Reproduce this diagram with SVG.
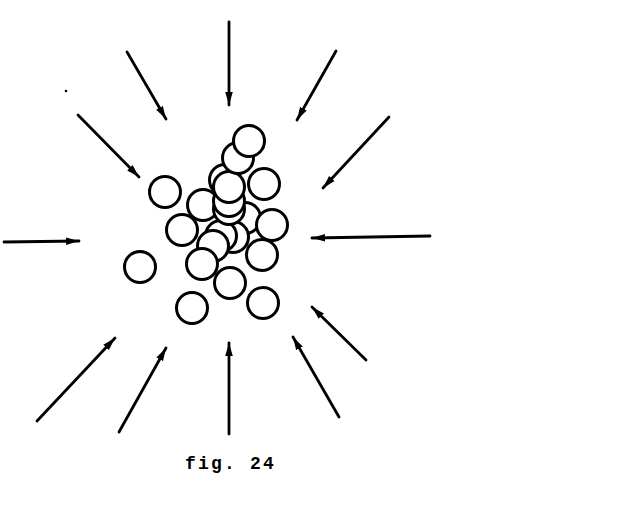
<svg xmlns="http://www.w3.org/2000/svg" width="618" height="523" viewBox="0 0 618 523">
<style>
.ar{stroke:#000;stroke-width:2.8;fill:none;stroke-linecap:round;marker-end:url(#h)}
.c circle{fill:#fff;stroke:#000;stroke-width:3}
.cap{font-family:"Liberation Mono",monospace;font-weight:bold;font-size:18px;letter-spacing:2.2px;fill:#000}
</style>
<defs>
<marker id="h" markerUnits="userSpaceOnUse" markerWidth="14" markerHeight="10" viewBox="0 0 14 10" refX="13" refY="5" orient="auto">
<path d="M0,1.2 L13,5 L0,8.8 z" fill="#000"/>
</marker>
</defs>
<rect width="618" height="523" fill="#fff"/>
<g id="connectors">
<line class="ar" x1="229" y1="22" x2="229" y2="105"/>
<line class="ar" x1="127" y1="52" x2="166" y2="119"/>
<line class="ar" x1="336" y1="51" x2="297" y2="120"/>
<line class="ar" x1="78" y1="115" x2="139" y2="177"/>
<line class="ar" x1="389" y1="117" x2="323" y2="188"/>
<line class="ar" x1="4" y1="242" x2="79" y2="241"/>
<line class="ar" x1="430" y1="236" x2="312" y2="238"/>
<line class="ar" x1="37" y1="421" x2="115" y2="338"/>
<line class="ar" x1="119" y1="432" x2="166" y2="348"/>
<line class="ar" x1="229" y1="434" x2="229" y2="343"/>
<line class="ar" x1="339" y1="417" x2="293" y2="337"/>
<line class="ar" x1="366" y1="360" x2="312" y2="307"/>
</g>
<circle cx="66" cy="91" r="1.3" fill="#000"/>
<g id="particles" class="c">
<circle id="p1" cx="165" cy="192" r="15.5"/>
<circle id="p2" cx="264" cy="184" r="15.5"/>
<circle id="p3" cx="140" cy="267" r="15.5"/>
<circle id="p4" cx="192" cy="308" r="15.5"/>
<circle id="p5" cx="263" cy="303" r="15.5"/>
<circle id="p6" cx="245" cy="218" r="15.5"/>
<circle id="p7" cx="182" cy="230" r="15.5"/>
<circle id="p8" cx="272" cy="225" r="15.5"/>
<circle id="p9" cx="262" cy="255" r="15.5"/>
<circle id="p10" cx="203" cy="205" r="15.5"/>
<circle id="p11" cx="233" cy="237" r="15.5"/>
<circle id="p12" cx="221" cy="236" r="15.5"/>
<circle id="p13" cx="213" cy="246" r="15.5"/>
<circle id="p14" cx="230" cy="283" r="15.5"/>
<circle id="p15" cx="202" cy="264" r="15.5"/>
<circle id="p16" cx="229" cy="209" r="15.5"/>
<circle id="p17" cx="229" cy="201" r="15.5"/>
<circle id="p18" cx="225" cy="180" r="15.5"/>
<circle id="p19" cx="229" cy="187" r="15.5"/>
<circle id="p20" cx="238" cy="158" r="15.5"/>
<circle id="p21" cx="249" cy="141" r="15.5"/>
</g>
<text class="cap" x="185" y="469">fig. 24</text>
</svg>
